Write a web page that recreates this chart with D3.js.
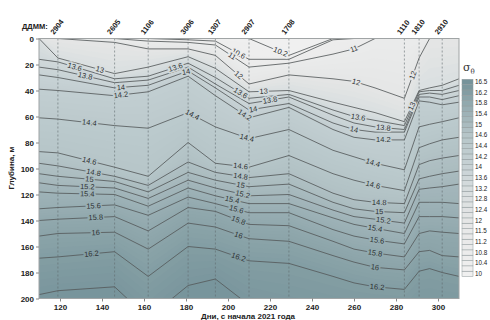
<!DOCTYPE html>
<html><head><meta charset="utf-8">
<script src="https://cdn.jsdelivr.net/npm/d3@7"></script>
<style>
body{margin:0;background:#fff}
svg{display:block;font-family:"Liberation Sans",Arial,sans-serif}
</style>
</head><body>
<svg id="c" width="490" height="320"></svg>
<script>
// ---------- DATA ----------
// columns (day of year) at which isopycnal depths (m) were read
const days = [110,119,146,162,181,194,210,229,250,260,270,284,291,296,302,310];
// depth of each isopycnal (sigma-theta level) at each column
const sig10_2 = [0,0,0,0,0,0,0,13,0,0,0,0,0,0,0,0];
const sig10_6 = [0,0,0,0,1,2,16,16,1,0,0,0,0,0,0,0];
const sig11   = [0,0,0,2,3,5,22,19,12,8,0,0,0,0,0,0];
const sig12   = [0,0,3,8,8,13,35,28,31,33,38,46,15,0,0,0];
const sig13   = [0,15,27,22,14,23,41,40,49,53,57,64,40,38,36,31];
const sig13_6 = [16,18,31,29,19,30,46,43,55,60,63,67,41,40,40,36];
const sig13_8 = [22,24,34,32,22,35,50,45,59,65,68,70,43,42,43,40];
const sig14   = [28,30,38,36,25,38,55,50,65,70,72,72,45,45,47,44];
const sig14_2 = [39,40,44,41,29,44,61,53,70,76,78,78,48,49,51,49];
const sig14_4 = [61,62,67,69,57,68,77,70,86,91,96,101,68,66,64,61];
const sig14_6 = [87,88,99,106,80,96,99,90,104,109,113,117,84,81,78,76];
const sig14_8 = [96,98,106,113,95,103,107,104,119,124,126,127,97,94,92,90];
const sig15   = [104,106,110,118,103,109,114,112,126,131,133,134,108,106,104,102];
const sig15_2 = [111,113,115,123,109,115,121,120,132,137,139,142,116,115,114,112];
const sig15_4 = [118,119,120,129,115,121,127,127,138,143,146,150,126,126,126,127];
const sig15_6 = [131,130,128,136,122,127,134,134,147,152,155,158,137,137,137,138];
const sig15_8 = [140,139,137,148,130,133,143,144,156,162,165,168,150,148,149,150];
const sig16   = [152,150,149,162,142,145,154,156,167,172,176,178,164,163,167,168];
const sig16_2 = [169,168,164,183,160,162,171,173,183,188,191,193,179,177,180,183];
const sig16_4 = [197,194,191,215,190,185,205,215,220,220,220,220,215,215,215,215];

const isoLevels = [10.2,10.6,11,12,13,13.6,13.8,14,14.2,14.4,14.6,14.8,15,15.2,15.4,15.6,15.8,16,16.2,16.4];
const isoDepths = [sig10_2,sig10_6,sig11,sig12,sig13,sig13_6,sig13_8,sig14,sig14_2,sig14_4,
                   sig14_6,sig14_8,sig15,sig15_2,sig15_4,sig15_6,sig15_8,sig16,sig16_2,sig16_4];
const surfaceValue = 10.1, bottomValue = 16.45;

// stations
const stationDays   = [119,146,162,181,194,210,229,284,291,302];
const stationLabels = ["2904","2605","1106","3006","1307","2907","1708","1110","1810","2910"];

// contour labels: level and day where they sit
const labelLevels = [13.6,13,13.8,14,14.2, 14.4,14.6,14.8,15,15.2,15.4,15.6,15.8,16,16.2,
  13.6,14,14.4, 10.6,11,12,13,13.6,13.8,14,14.2,14.4,
  14.6,14.8,15,15.2,15.4,15.6,15.8,16,16.2, 10.2,11,12,
  13.6,13.8,14,14.2,14.4,14.6,14.8,15,15.2,15.4,15.6,15.8,16,16.2, 12,13];
const labelDays = [127,139,132,149,149, 134,134,136,134,133,133,136,137,137,135,
  175,180,183, 205,202,205,217,206,220,212,208,209,
  206,206,206,207,202,204,205,205,205, 225,260,261,
  262,274,260,274,269,269,272,272,274,270,271,270,270,271, 288,287.5];

// axes
const xTicks = [120,140,160,180,200,220,240,260,280,300];
const yTicks = [0,20,40,60,80,100,120,140,160,180,200];

// colour bar levels (bottom -> top) and labels
const cbLevels = [10,10.2,10.4,10.6,10.8,11,11.2,11.35,11.5,11.75,12,12.2,12.4,12.6,12.8,13,13.2,13.4,
  13.6,13.8,14,14.1,14.2,14.3,14.4,14.5,14.6,14.8,15,15.2,15.4,15.6,15.8,16,16.2,16.35,16.5];
const cbLabels = ["10","10.4","10.8","11.2","11.5","12","12.4","12.8","13.2","13.6","14","14.2","14.4","14.6","15","15.4","15.8","16.2","16.5"];

// ---------- STYLE ----------
const colorDomain = [10,11,12,13,13.6,14,14.4,15,15.5,16,16.5];
const colorRange  = ["#f0f0f0","#ebebeb","#e5e6e6","#dadfe0","#d0d8da","#c8d2d5","#bccacd","#aabbbf","#9bb0b5","#8ba4a9","#76939a"];

// ---------- DRAW ----------
const svg = d3.select("#c");
const L = 39, R = 459, T = 38.5, B = 298.5;
const x = d3.scaleLinear().domain([110,310]).range([L,R]);
const y = d3.scaleLinear().domain([0,200]).range([T,B]);
const color = d3.scaleLinear().domain(colorDomain).range(colorRange).clamp(true);

svg.append("defs").append("clipPath").attr("id","clip")
  .append("rect").attr("x",L).attr("y",T).attr("width",R-L).attr("height",B-T);

const plot = svg.append("g").attr("clip-path","url(#clip)");

// background (surface water)
plot.append("rect").attr("x",L).attr("y",T).attr("width",R-L).attr("height",B-T)
  .attr("fill",color(surfaceValue));

// filled sub-bands (painter's algorithm: each boundary filled downward)
const area = d3.area().x((d,j)=>x(days[j])).y0(d=>y(d)).y1(y(210));
const nSub = 5;
for (let i=0;i<isoLevels.length;i++){
  const a = isoDepths[i];
  if (i === isoLevels.length-1){
    plot.append("path").datum(a).attr("d",area).attr("fill",color(bottomValue));
    break;
  }
  const b = isoDepths[i+1];
  for (let s=0;s<nSub;s++){
    const f = s/nSub;
    const dep = a.map((v,j)=>v+(b[j]-v)*f);
    const val = isoLevels[i]+(isoLevels[i+1]-isoLevels[i])*(s+0.5)/nSub;
    plot.append("path").datum(dep).attr("d",area).attr("fill",color(val));
  }
}

// station dashed lines
plot.selectAll(".st").data(stationDays).enter().append("line")
  .attr("x1",d=>x(d)).attr("x2",d=>x(d)).attr("y1",T).attr("y2",B)
  .attr("stroke","#5f6a6d").attr("stroke-width",0.6).attr("stroke-dasharray","2,2");

// contour lines
const line = d3.line().x((d,j)=>x(days[j])).y(d=>y(d));
isoDepths.forEach(a=>{
  plot.append("path").datum(a).attr("d",line).attr("fill","none")
    .attr("stroke","#565b5c").attr("stroke-width",0.85);
});

// contour labels
labelLevels.forEach((lv,k)=>{
  const i = isoLevels.indexOf(lv);
  const f = d3.scaleLinear().domain(days).range(isoDepths[i]);
  const d0 = labelDays[k];
  const px = x(d0), py = y(f(d0));
  const ang = Math.atan2(y(f(d0+1.5))-y(f(d0-1.5)), x(d0+1.5)-x(d0-1.5))*180/Math.PI;
  plot.append("text").attr("transform",`translate(${px},${py}) rotate(${ang})`)
    .attr("text-anchor","middle").attr("dy","0.33em")
    .attr("font-size",7.5).attr("fill","#2e3233")
    .attr("stroke",color(lv)).attr("stroke-width",3).attr("paint-order","stroke")
    .text(String(lv));
});

// frame
svg.append("rect").attr("x",L).attr("y",T).attr("width",R-L).attr("height",B-T)
  .attr("fill","none").attr("stroke","#a0a4a5").attr("stroke-width",1);

// axes
const yAxis = svg.append("g").attr("transform",`translate(${L},0)`)
  .call(d3.axisLeft(y).tickValues(yTicks).tickSize(3).tickPadding(2));
const xAxis = svg.append("g").attr("transform",`translate(0,${B})`)
  .call(d3.axisBottom(x).tickValues(xTicks).tickSize(3).tickPadding(3));
[yAxis,xAxis].forEach(g=>{
  g.select(".domain").remove();
  g.selectAll(".tick line").attr("stroke","#888");
  g.selectAll(".tick text").attr("font-size",8).attr("font-weight","bold").attr("fill","#222")
    .style("font-family","'Liberation Sans',Arial,sans-serif");
});

svg.append("text").attr("transform","translate(14,168) rotate(-90)")
  .attr("text-anchor","middle").attr("font-size",8).attr("font-weight","bold").attr("fill","#222")
  .text("Глубина, м");
svg.append("text").attr("x",248).attr("y",318.5)
  .attr("text-anchor","middle").attr("font-size",8).attr("font-weight","bold").attr("fill","#222")
  .text("Дни, с начала 2021 года");

// station labels
svg.append("text").attr("x",22).attr("y",28.5).attr("font-size",7.5).attr("font-weight","bold")
  .attr("fill","#222").text("ДДММ:");
stationDays.forEach((d,k)=>{
  svg.append("text").attr("transform",`translate(${x(d)-4},35) rotate(-52)`)
    .attr("font-size",7.5).attr("font-weight","bold").attr("fill","#222")
    .text(stationLabels[k]);
});

// colour bar
const cbX = 462, cbW = 11, cbTop = 79.3, cbStep = 5.33;
const nCb = cbLevels.length;
cbLevels.forEach((lv,k)=>{
  const row = nCb-1-k;
  svg.append("rect").attr("x",cbX).attr("y",cbTop+row*cbStep).attr("width",cbW).attr("height",cbStep)
    .attr("fill",color(lv)).attr("stroke","#8f9a9c").attr("stroke-width",0.5);
});
cbLabels.forEach((t,k)=>{
  const idx = k*2;
  const row = nCb-1-idx;
  svg.append("text").attr("x",cbX+cbW+2).attr("y",cbTop+row*cbStep+cbStep/2).attr("dy","0.33em")
    .attr("font-size",6.3).attr("fill","#222").text(t);
});
const sg = svg.append("text").attr("x",463).attr("y",71).attr("font-size",11)
  .attr("fill","#333").style("font-family","'DejaVu Serif',serif");
sg.append("tspan").text("σ");
sg.append("tspan").attr("font-size",7).attr("dy",2.5).text("θ");
</script>
</body></html>
